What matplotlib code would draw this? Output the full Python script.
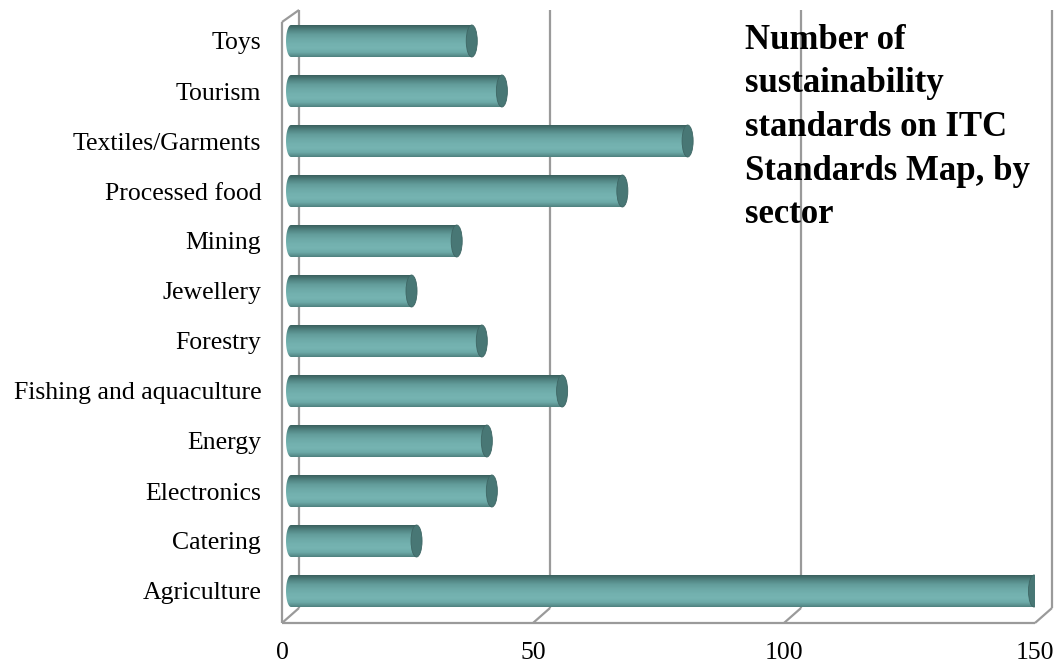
import numpy as np
import matplotlib
matplotlib.use('Agg')
from matplotlib import pyplot as plt
from matplotlib.path import Path
from matplotlib.patches import PathPatch, Ellipse

# data, bottom to top
sectors = ['Agriculture', 'Catering', 'Electronics', 'Energy', 'Fishing and aquaculture',
           'Forestry', 'Jewellery', 'Mining', 'Processed food', 'Textiles/Garments',
           'Tourism', 'Toys']
counts = [149, 26, 41, 40, 55, 39, 25, 34, 67, 80, 43, 37]
xticks = [0, 50, 100, 150]

title = 'Number of\nsustainability\nstandards on ITC\nStandards Map, by\nsector'

W, H = 1060, 663
fig = plt.figure(figsize=(W / 100, H / 100), dpi=100)
# axes frame = front floor-left corner to front right, back top
ax = fig.add_axes([282 / W, 40 / H, (1035 - 282) / W, (653 - 40) / H])
ax.set_xlim(0, 150)
ax.set_ylim(-0.64, 11.62)
for s in ax.spines.values():
    s.set_visible(False)

serif = ['Liberation Serif', 'DejaVu Serif']
ax.set_yticks(range(len(sectors)))
ax.set_yticklabels(sectors, family=serif, fontsize=18.5)
ax.set_xticks(xticks)
ax.set_xticklabels([str(t) for t in xticks], family=serif, fontsize=18.5)
ax.tick_params(length=0)
ax.tick_params(axis='y', pad=15)
ax.tick_params(axis='x', pad=14)

# 3d box wall / gridlines
dx, yb, yf, ytop, ytopf = 3.39, -0.34, -0.64, 11.62, 11.38
gc = '#9a9a9a'
lw = 1.6
kw = dict(color=gc, lw=lw, clip_on=False, zorder=1, solid_capstyle='butt')
ax.plot([0, 0], [yf, ytopf], **kw)
ax.plot([0, dx], [ytopf, ytop], **kw)
ax.plot([dx, dx], [yb, ytop], **kw)
ax.plot([0, dx], [yf, yb], **kw)
ax.plot([0, 150], [yf, yf], **kw)
for t in xticks[1:]:
    ax.plot([t + dx, t + dx], [yb, ytop], **kw)
    ax.plot([t, t + dx], [yf, yb], **kw)

# cylinder bars
grad = np.array([
    [80, 130, 128],
    [108, 170, 168],
    [118, 180, 178],
    [114, 176, 174],
    [108, 168, 166],
    [98, 156, 154],
    [80, 130, 128],
    [58, 96, 94],
]) / 255.0
n = 64
pos = np.linspace(0, 1, len(grad))
ys = np.linspace(0, 1, n)
img = np.stack([np.interp(ys, pos, grad[:, c]) for c in range(3)], axis=-1)[:, None, :]

h = 0.64
rx_left = 1.0
rx_cap = 1.1
x0 = 0.8  # bars sit slightly behind the front plane
for i, v in enumerate(counts):
    yc = i
    xe = v + x0
    top, bot = yc + h / 2, yc - h / 2
    th = np.linspace(np.pi / 2, 3 * np.pi / 2, 30)
    lx = x0 + rx_left + rx_left * np.cos(th)
    ly = yc + h / 2 * np.sin(th)
    verts = list(zip(lx, ly)) + [(xe, bot), (xe, top), (lx[0], ly[0])]
    clip = PathPatch(Path(verts), transform=ax.transData, facecolor='none', edgecolor='none')
    ax.add_patch(clip)
    im = ax.imshow(img, extent=[x0, xe, top, bot], aspect='auto', zorder=2,
                   interpolation='bilinear')
    im.set_clip_path(clip)
    ax.add_patch(Ellipse((xe, yc), 2 * rx_cap, h, facecolor='#487775',
                         edgecolor='#3e6664', lw=0.6, zorder=3))

ax.set_xlim(0, 150)
ax.set_ylim(-0.64, 11.62)

fig.text(745 / W, 1 - 24 / H, title, family=serif, fontweight='bold', fontsize=25,
         va='top', ha='left', linespacing=1.42, zorder=0)

fig.savefig('out.png', dpi=100)
